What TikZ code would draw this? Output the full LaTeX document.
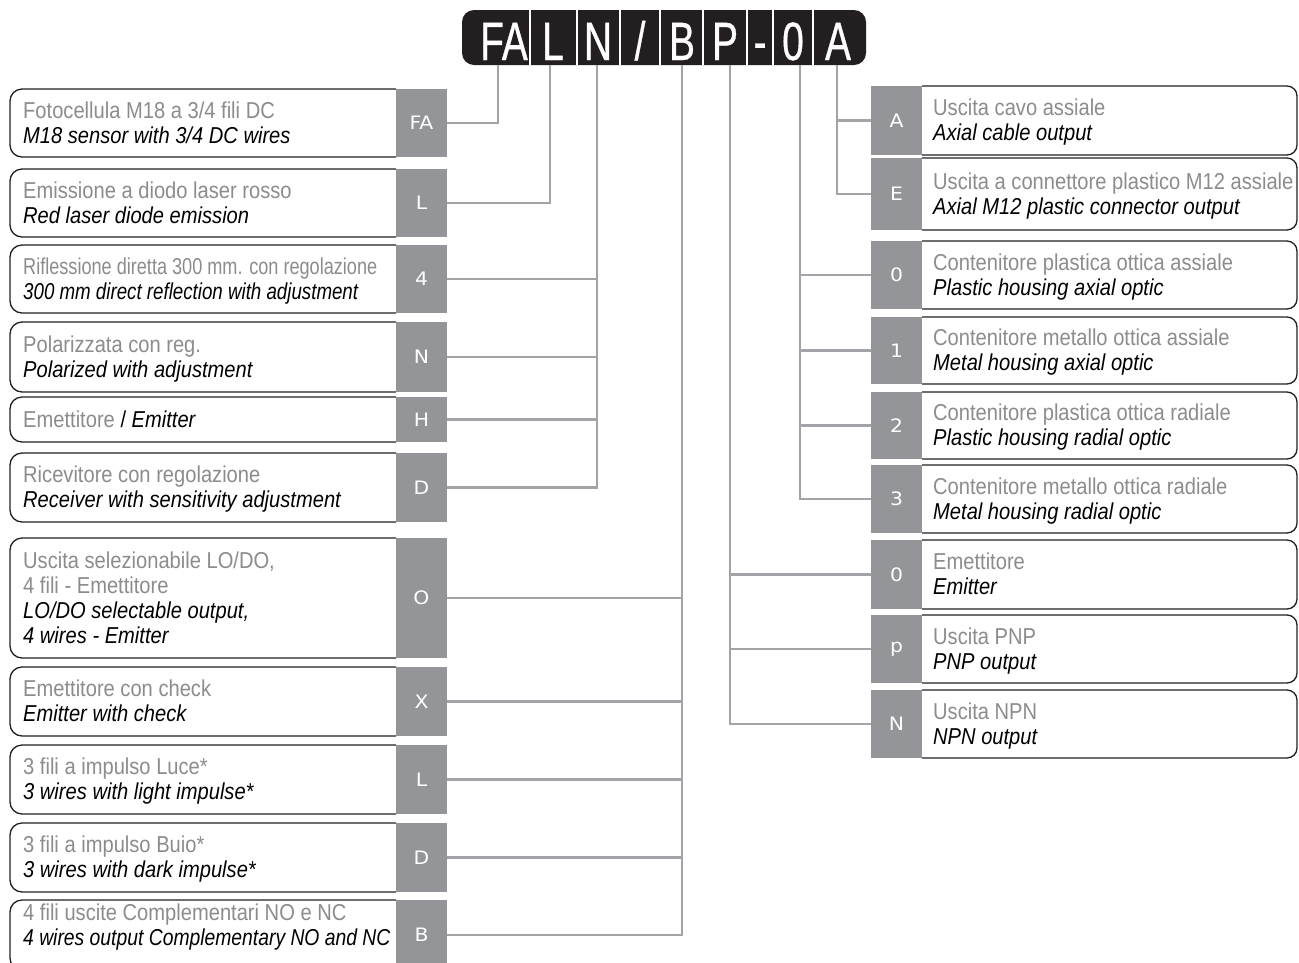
\documentclass[tikz,border=0pt]{standalone}
\usepackage{fontspec}
\setmainfont{Liberation Sans}[FakeStretch=0.875]
\newfontfamily\codefont{Liberation Sans}[FakeStretch=0.72,FakeBold=0.6]
\newfontfamily\tabfont{DejaVu Sans}[FakeStretch=1.1]
\definecolor{tabgray}{HTML}{939598}
\definecolor{conngray}{HTML}{A2A4A7}
\definecolor{txtgray}{HTML}{8A8C8E}
\definecolor{barblack}{HTML}{231F20}
\newcommand\LBox[4]{%
  \draw[boxline] (396,#2) -- (10,#2) -- (10,#3) -- (396,#3);
  \node[tab, minimum height={(#3-#2)*1pt}] (#1) at (421.5,{(#2+#3)/2}) {#4};
}
\newcommand\RBox[4]{%
  \draw[boxline, rounded corners=10pt] (922,#2) -- (1297,#2) -- (1297,#3) -- (922,#3);
  \node[tab, minimum height={(#3-#2)*1pt}] (#1) at (896.5,{(#2+#3)/2}) {#4};
}
\tikzset{
  boxline/.style={draw=barblack, line width=1.3pt, rounded corners=12pt},
  conn/.style={draw=conngray, line width=2.6pt},
  tab/.style={fill=tabgray, text=white, font=\tabfont\fontsize{18.5}{18.5}\selectfont, inner sep=0pt, outer sep=0pt, minimum width=51pt},
  gr/.style={font=\fontsize{23}{25}\selectfont, text=txtgray, anchor=base west, inner sep=0pt},
  it/.style={font=\fontsize{23}{25}\selectfont\itshape, text=black, anchor=base west, inner sep=0pt},
  code/.style={font=\codefont\fontsize{54}{54}\selectfont, text=white, anchor=base, inner sep=0pt},
  sep/.style={draw=white, line width=2.5pt}
}
\begin{document}
\begin{tikzpicture}[x=1pt,y=-1pt]
\useasboundingbox (0,0) rectangle (1299,962);
\clip (0,0) rectangle (1299,962);
\fill[white] (0,0) rectangle (1299,962);

% header bar
\node[fill=barblack, rounded corners=12pt, minimum width=404pt, minimum height=55pt, inner sep=0pt] (bar) at (664,37.5) {};
\foreach \x in {530,577,620,660,703,747,773,813} \draw[sep] (\x,10) -- (\x,65);
\node[code] (hFA) at (504,60) {FA};
\node[code] (hL) at (553,60) {L};
\node[code] (hN) at (598,60) {N};
\node[code] (hSl) at (640,60) {/};
\node[code] (hB) at (682,60) {B};
\node[code] (hP) at (725,60) {P};
\node[code] (hD) at (760,60) {-};
\node[code] (h0) at (793,60) {0};
\node[code] (hA) at (838,60) {A};
\coordinate (sFA) at (498,65);
\coordinate (sL) at (550,65);
\coordinate (sN) at (597,65);
\coordinate (sB) at (682,65);
\coordinate (sP) at (730,65);
\coordinate (s0) at (800,65);
\coordinate (sA) at (837,65);

% left boxes
\LBox{tFA}{89}{157}{FA}
\node[gr] (a1) at (23,118) {Fotocellula M18 a 3/4 fili DC};
\node[it] (b1) at (23,143) {M18 sensor with 3/4 DC wires};
\LBox{tL}{169}{237}{L}
\node[gr] (a2) at (23,198) {Emissione a diodo laser rosso};
\node[it] (b2) at (23,223) {Red laser diode emission};
\LBox{t4}{245}{313}{4}
\node[gr] (a3) at (23,274) {\scalebox{0.9}[1]{Riflessione diretta 300 mm. con regolazione}};
\node[it] (b3) at (23,299) {\scalebox{0.93}[1]{300 mm direct reflection with adjustment}};
\LBox{tN}{322}{392}{N}
\node[gr] (a4) at (23,352) {Polarizzata con reg.};
\node[it] (b4) at (23,377) {Polarized with adjustment};
\LBox{tH}{397}{442}{H}
\node[gr] (a5) at (23,427) {Emettitore \textcolor{black}{/ \itshape Emitter}};
\LBox{tD}{453}{522}{D}
\node[gr] (a6) at (23,482.5) {Ricevitore con regolazione};
\node[it] (b6) at (23,507.5) {Receiver with sensitivity adjustment};
\LBox{tO}{538}{658}{O}
\node[gr] (a7) at (23,568) {Uscita selezionabile LO/DO,};
\node[gr] (c7) at (23,593) {4 fili - Emettitore};
\node[it] (b7) at (23,618) {LO/DO selectable output,};
\node[it] (d7) at (23,643) {4 wires - Emitter};
\LBox{tX}{667}{736}{X}
\node[gr] (a8) at (23,696.5) {Emettitore con check};
\node[it] (b8) at (23,721.5) {Emitter with check};
\LBox{tL2}{745}{814}{L}
\node[gr] (a9) at (23,774.5) {3 fili a impulso Luce*};
\node[it] (b9) at (23,799.5) {3 wires with light impulse*};
\LBox{tD2}{823}{892}{D}
\node[gr] (a10) at (23,852.5) {3 fili a impulso Buio*};
\node[it] (b10) at (23,877.5) {3 wires with dark impulse*};
\LBox{tB}{900}{970}{B}
\node[gr] (a11) at (23,920) {4 fili uscite Complementari NO e NC};
\node[it] (b11) at (23,945) {\scalebox{0.96}[1]{4 wires output Complementary NO and NC}};

% right boxes
\RBox{tA}{86}{155}{A}
\node[gr] (r1a) at (933,115.5) {Uscita cavo assiale};
\node[it] (r1b) at (933,140.5) {Axial cable output};
\RBox{tE}{158}{230}{E}
\node[gr] (r2a) at (933,189) {Uscita a connettore plastico M12 assiale};
\node[it] (r2b) at (933,214) {Axial M12 plastic connector output};
\RBox{t0}{241}{309}{0}
\node[gr] (r3a) at (933,270) {Contenitore plastica ottica assiale};
\node[it] (r3b) at (933,295) {Plastic housing axial optic};
\RBox{t1}{317}{384}{1}
\node[gr] (r4a) at (933,345.5) {Contenitore metallo ottica assiale};
\node[it] (r4b) at (933,370.5) {Metal housing axial optic};
\RBox{t2}{392}{459}{2}
\node[gr] (r5a) at (933,420.5) {Contenitore plastica ottica radiale};
\node[it] (r5b) at (933,445.5) {Plastic housing radial optic};
\RBox{t3}{465}{533}{3}
\node[gr] (r6a) at (933,494) {Contenitore metallo ottica radiale};
\node[it] (r6b) at (933,519) {Metal housing radial optic};
\RBox{to}{540}{609}{0}
\node[gr] (r7a) at (933,569.5) {Emettitore};
\node[it] (r7b) at (933,594.5) {Emitter};
\RBox{tp}{615}{683}{p}
\node[gr] (r8a) at (933,644) {Uscita PNP};
\node[it] (r8b) at (933,669) {PNP output};
\RBox{tN2}{690}{758}{N}
\node[gr] (r9a) at (933,719) {Uscita NPN};
\node[it] (r9b) at (933,744) {NPN output};

% connectors
\draw[conn] (sFA) |- (tFA.east);
\draw[conn] (sL) |- (tL.east);
\draw[conn] (sN) |- (tD.east) (sN) |- (t4.east) (sN) |- (tN.east) (sN) |- (tH.east);
\draw[conn] (sB) |- (tB.east) (sB) |- (tO.east) (sB) |- (tX.east) (sB) |- (tL2.east) (sB) |- (tD2.east);
\draw[conn] (sP) |- (tN2.west) (sP) |- (to.west) (sP) |- (tp.west);
\draw[conn] (s0) |- (t3.west) (s0) |- (t0.west) (s0) |- (t1.west) (s0) |- (t2.west);
\draw[conn] (sA) |- (tE.west) (sA) |- (tA.west);
\end{tikzpicture}
\end{document}
